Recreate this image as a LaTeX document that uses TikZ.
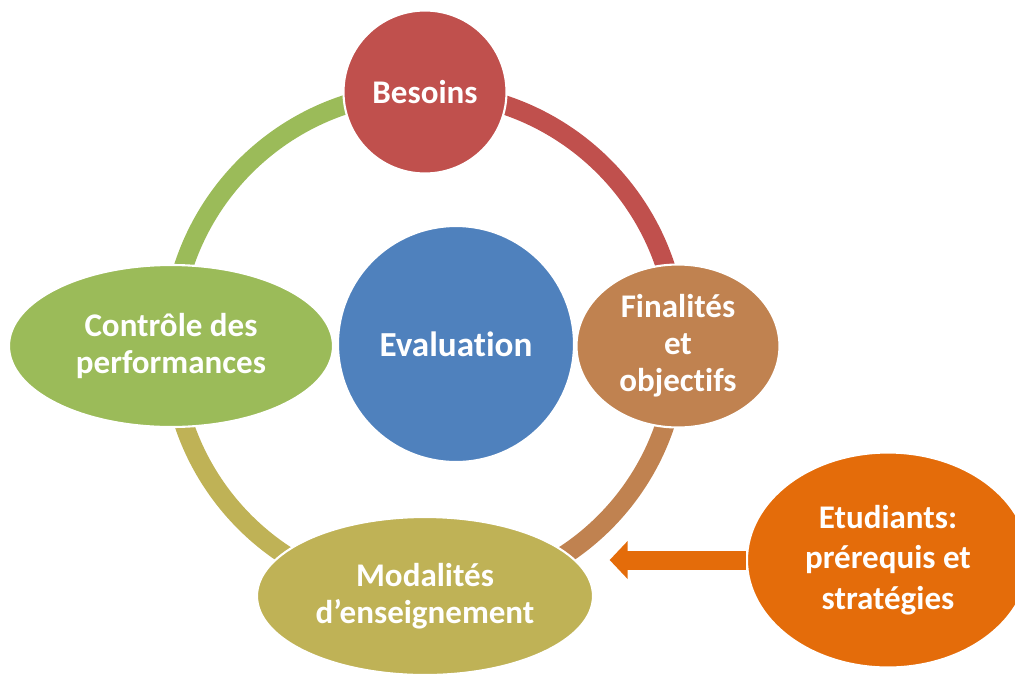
\documentclass[tikz,border=0pt]{standalone}
\usepackage{fontspec}
\setmainfont[Ligatures=NoCommon]{Carlito}
\usetikzlibrary{shapes.geometric,arrows.meta,backgrounds}

\definecolor{besoinsred}{RGB}{192,80,77}
\definecolor{finalbrown}{RGB}{192,130,80}
\definecolor{modalolive}{RGB}{191,178,86}
\definecolor{controlgreen}{RGB}{155,187,89}
\definecolor{evalblue}{RGB}{79,129,189}
\definecolor{etudorange}{RGB}{228,108,10}

\begin{document}
\begin{tikzpicture}[
    bubble/.style={draw=white, line width=1.5pt, fill=#1, text=white, align=center, inner sep=0pt,
                   font=\fontsize{23.5}{26.3}\selectfont\bfseries},
    ringarc/.style={line width=0.48cm, draw=#1},
    flow/.style={line width=0.475cm, draw=etudorange, -{Triangle[width=0.925cm, length=0.45cm]}}
]
    \useasboundingbox (-10.625, -8.3) rectangle (14.75, 8.6);

    % nodes: besoins finalites modalites controle
    \node[bubble=besoinsred, circle, minimum size=4.075cm] (besoins) at (0, 6.3) {Besoins};
    \node[bubble=finalbrown, ellipse, minimum width=5.075cm, minimum height=4.075cm] (finalites) at (6.325, -0.05) {Finalités\\et\\objectifs};
    \node[bubble=modalolive, ellipse, minimum width=8.4cm, minimum height=3.95cm] (modalites) at (0, -6.3) {Modalités\\d’enseignement};
    \node[bubble=controlgreen, ellipse, minimum width=8.1cm, minimum height=4.05cm] (controle) at (-6.35, -0.05) {Contrôle des\\performances};
    % nodes: evaluation etudiants
    \node[bubble=evalblue, circle, minimum size=5.9cm, font=\fontsize{25}{30}\selectfont\bfseries] (evaluation) at (0.775, 0) {Evaluation};
    \node[bubble=etudorange, ellipse, minimum width=7.05cm, minimum height=5.375cm,
          font=\fontsize{23.5}{29}\selectfont\bfseries] (etudiants) at (11.575, -5.4) {Etudiants:\\prérequis et\\stratégies};

    % edges: the cycle
    \begin{scope}[on background layer]
        \draw[ringarc=besoinsred] (besoins.center) to[bend left=45] (finalites.center);
        \draw[ringarc=finalbrown] (finalites.center) to[bend left=45] (modalites.center);
        \draw[ringarc=modalolive] (modalites.center) to[bend left=45] (controle.center);
        \draw[ringarc=controlgreen] (controle.center) to[bend left=45] (besoins.center);
    \end{scope}

    % edge: etudiants -> modalites
    \draw[flow, shorten >=0.39cm] (etudiants.west) -- (etudiants.west -| modalites.east);
\end{tikzpicture}
\end{document}
